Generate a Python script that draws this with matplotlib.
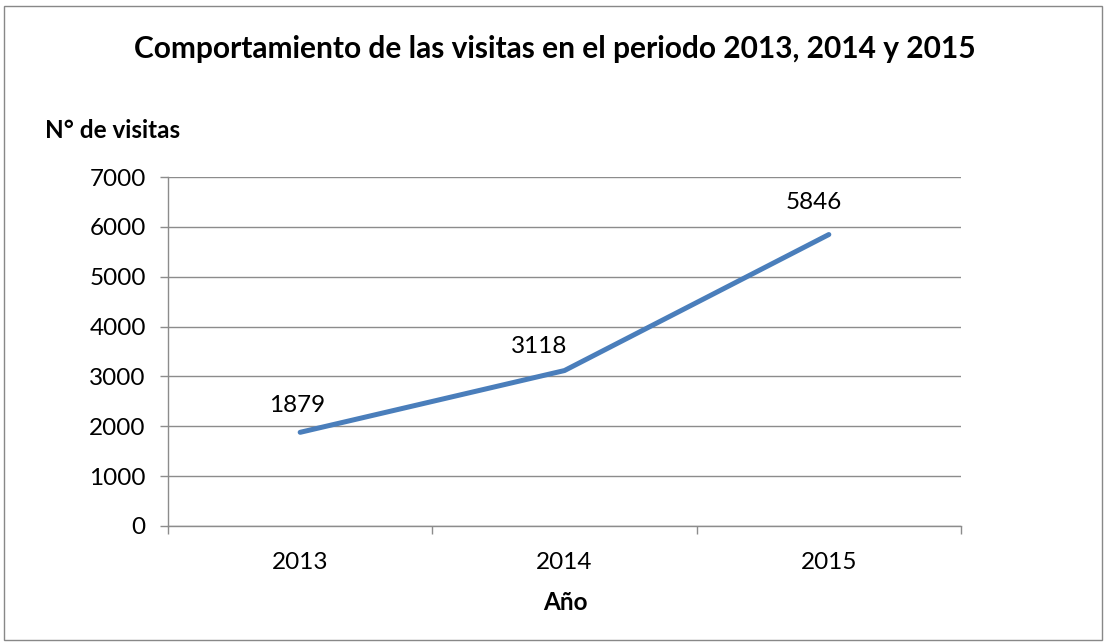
import matplotlib
matplotlib.use("Agg")
import matplotlib.pyplot as plt
from matplotlib.patches import Rectangle

years = ["2013", "2014", "2015"]
visits = [1879, 3118, 5846]
label_offsets = [(-3, 27), (-25, 24), (-15, 32)]  # px offsets for data labels
yticks = [0, 1000, 2000, 3000, 4000, 5000, 6000, 7000]

plt.rcParams['font.family'] = ['Lato', 'DejaVu Sans']

W, H = 1106, 644
fig = plt.figure(figsize=(W / 100, H / 100), dpi=100)
fig.patches.append(Rectangle((4 / W, 4 / H), 1 - 8 / W, 1 - 10 / H, transform=fig.transFigure,
                             fill=False, edgecolor="#888888", linewidth=1.0))

left, right, top, bottom = 168, 961, 177, 526
ax = fig.add_axes([left / W, 1 - bottom / H, (right - left) / W, (bottom - top) / H])

x = list(range(len(years)))
ax.plot(x, visits, color="#4A7EBB", linewidth=3.6, solid_capstyle="round",
        solid_joinstyle="round", zorder=3)
for xi, v, (dx, dy) in zip(x, visits, label_offsets):
    ax.annotate(str(v), (xi, v), xytext=(dx * 0.72, dy * 0.72), textcoords="offset points",
                ha="center", va="center", fontsize=17.5, color="black")

ax.set_xlim(-0.5, len(years) - 0.5)
ax.set_ylim(0, 7000)
ax.set_yticks(yticks)
ax.set_yticklabels([str(t) for t in yticks], fontsize=17.5)
ax.yaxis.grid(True, color="#8c8c8c", linewidth=1.0)
ax.set_axisbelow(True)

ax.set_xticks([i - 0.5 for i in range(len(years) + 1)])
ax.set_xticklabels([])
ax.set_xticks(x, minor=True)
ax.set_xticklabels(years, minor=True, fontsize=17.5)
ax.tick_params(axis="x", which="major", length=6, color="#8c8c8c", width=1.0, direction="out")
ax.tick_params(axis="x", which="minor", length=0, pad=19)
ax.tick_params(axis="y", length=6, color="#8c8c8c", width=1.0, pad=10)

for s in ["top", "right"]:
    ax.spines[s].set_visible(False)
for s in ["left", "bottom"]:
    ax.spines[s].set_color("#8c8c8c")
    ax.spines[s].set_linewidth(1.0)

fig.text(555 / W, 1 - 49 / H, "Comportamiento de las visitas en el periodo 2013, 2014 y 2015",
         ha="center", va="center", fontsize=21.5, fontweight="bold")
fig.text(45 / W, 1 - 130 / H, "N° de visitas", ha="left", va="center", fontsize=17.5, fontweight="bold")
fig.text(565 / W, 1 - 602 / H, "Año", ha="center", va="center", fontsize=17.5, fontweight="bold")

fig.savefig("out.png", dpi=100)
